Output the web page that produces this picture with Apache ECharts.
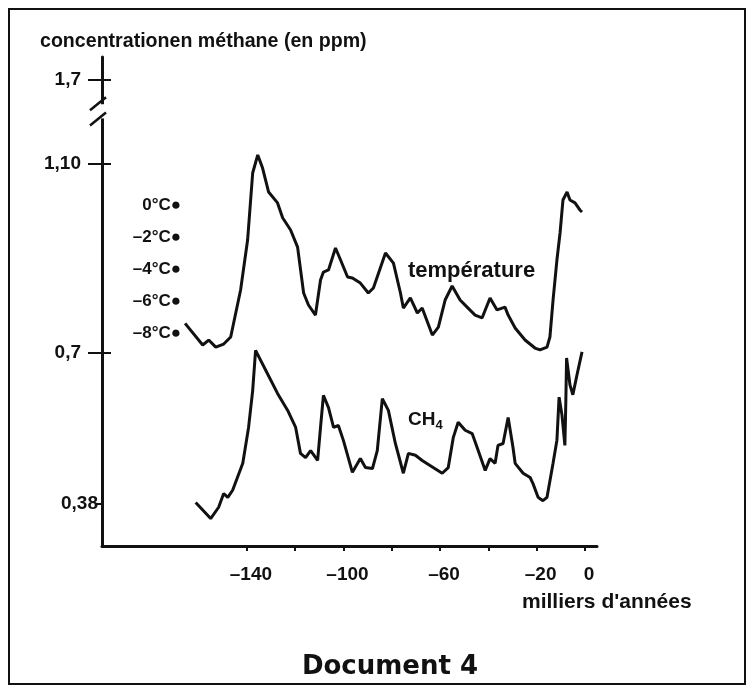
<!DOCTYPE html>
<html>
<head>
<meta charset="utf-8">
<script src="https://cdn.jsdelivr.net/npm/echarts@6/dist/echarts.min.js"></script>
<style>
html,body{margin:0;padding:0;background:#fff;}
#chart{width:754px;height:691px;}
</style>
</head>
<body>
<div id="chart"></div>
<script>
// ---- data (ages in thousands of years, CH4 in ppm, temperature in °C) ----
const xTickValues = [-140, -120, -100, -80, -60, -40, -20, 0];
const xLabelValues = [-140, -100, -60, -20, 0];
// 1.276 is where the broken axis places its "1,7" tick
const ch4TickValues = [0.38, 0.7, 1.1, 1.276];
const ch4TickLabels = ['0,38', '0,7', '1,10', '1,7'];
const tempLabelValues = [0, -2, -4, -6, -8];

const tempAges = [-165.6,-158.3,-155.8,-152.9,-149.6,-146.7,-142.6,-139.7,-137.6,-135.5,-133.5,-131.0,-127.3,-125.2,-121.9,-119.0,-116.5,-114.5,-111.6,-109.5,-108.3,-106.2,-103.3,-101.2,-98.3,-96.3,-93.0,-89.7,-87.6,-82.6,-79.3,-76.4,-75.2,-72.3,-69.4,-67.4,-63.2,-60.7,-57.9,-55.0,-51.7,-48.8,-45.5,-42.6,-39.3,-36.4,-33.1,-31.8,-28.9,-24.8,-20.7,-18.6,-15.7,-14.5,-13.2,-11.6,-10.3,-9.1,-7.4,-6.2,-4.1,-2.1,-1.2];
const tempValues = [-7.4,-8.75,-8.44,-8.88,-8.69,-8.25,-5.31,-2.19,2.0,3.13,2.31,0.81,0.13,-0.8,-1.56,-2.63,-5.5,-6.25,-6.88,-4.69,-4.19,-4.06,-2.69,-3.44,-4.5,-4.56,-4.88,-5.5,-5.19,-3.0,-3.63,-5.5,-6.44,-5.81,-6.75,-6.44,-8.13,-7.63,-5.94,-5.06,-5.94,-6.38,-6.88,-7.06,-5.81,-6.56,-6.38,-6.88,-7.69,-8.44,-8.94,-9.06,-8.88,-8.25,-5.94,-3.44,-1.75,0.31,0.81,0.31,0.13,-0.31,-0.44];

const ch4Ages = [-161.2,-155.0,-151.7,-149.6,-147.9,-145.9,-141.7,-139.3,-137.6,-136.4,-132.2,-127.3,-123.1,-119.8,-117.8,-115.7,-113.6,-110.7,-109.5,-108.3,-106.2,-104.1,-102.1,-100.0,-96.3,-93.0,-90.9,-88.0,-86.0,-83.9,-81.4,-78.5,-75.2,-73.1,-70.2,-67.4,-64.0,-59.1,-56.6,-54.5,-52.5,-49.6,-46.7,-44.2,-41.3,-39.3,-37.2,-36.0,-33.9,-31.8,-29.8,-28.9,-25.6,-22.7,-21.5,-19.4,-17.4,-15.7,-13.2,-11.6,-10.7,-9.5,-8.3,-7.9,-7.6,-6.2,-5.0,-3.3,-1.2];
const ch4Values = [0.382,0.348,0.372,0.401,0.393,0.408,0.465,0.541,0.619,0.704,0.662,0.613,0.577,0.541,0.486,0.477,0.492,0.471,0.541,0.609,0.583,0.541,0.545,0.513,0.446,0.475,0.456,0.454,0.492,0.602,0.577,0.507,0.444,0.486,0.482,0.471,0.460,0.444,0.456,0.520,0.552,0.535,0.528,0.492,0.450,0.475,0.465,0.503,0.507,0.562,0.499,0.465,0.444,0.435,0.422,0.393,0.386,0.393,0.465,0.514,0.605,0.567,0.503,0.598,0.688,0.631,0.610,0.652,0.701];

const FONT = '"Liberation Sans", Arial, sans-serif';
const INK = '#111';

const chart = echarts.init(document.getElementById('chart'), null, {renderer: 'canvas'});

function ch4Label(v) {
  for (let i = 0; i < ch4TickValues.length; i++) {
    if (Math.abs(ch4TickValues[i] - v) < 1e-6) return ch4TickLabels[i];
  }
  return '';
}

const yMin = 0.29, yMax = 1.325;
const tMin = -21.3125, tMax = 9.25;

const option = {
  animation: false,
  backgroundColor: '#fff',
  grid: {left: 102, top: 57, right: 157, bottom: 145, containLabel: false},
  xAxis: {
    type: 'value', min: -200, max: 5,
    axisLine: {show: true, onZero: false, lineStyle: {color: INK, width: 3}},
    axisTick: {show: true, length: 5, lineStyle: {color: INK, width: 2}, customValues: xTickValues},
    axisLabel: {
      show: true, customValues: xLabelValues, margin: 19, padding: [0, 0, 0, 8],
      color: INK, fontFamily: FONT, fontWeight: 'bold', fontSize: 19,
      formatter: v => String(v).replace('-', '\u2013')
    },
    splitLine: {show: false}
  },
  yAxis: [
    {
      type: 'value', min: yMin, max: yMax, position: 'left',
      axisLine: {show: true, onZero: false, lineStyle: {color: INK, width: 3}},
      axisTick: {show: true, length: 6, lineStyle: {color: INK, width: 2}, customValues: ch4TickValues},
      axisLabel: {
        show: true, customValues: ch4TickValues, margin: 4,
        formatter: v => {
          const s = ch4Label(v);
          return s === '0,38' ? '{b|' + s + '}' : '{a|' + s + '}';
        },
        rich: {
          a: {fontFamily: FONT, fontWeight: 'bold', fontSize: 19, color: INK, padding: [0, 17, 0, 0]},
          b: {fontFamily: FONT, fontWeight: 'bold', fontSize: 19, color: INK}
        }
      },
      splitLine: {show: false}
    },
    {
      type: 'value', min: tMin, max: tMax, position: 'left', offset: -79,
      axisLine: {show: false, onZero: false}, axisTick: {show: false},
      axisLabel: {
        show: true, customValues: tempLabelValues, margin: 0,
        color: INK, fontFamily: FONT, fontWeight: 'bold', fontSize: 17,
        formatter: v => String(v).replace('-', '\u2013') + '°C\u25CF'
      },
      splitLine: {show: false}
    },
    {
      type: 'value', min: yMin, max: yMax, position: 'left',
      axisLine: {show: false, onZero: false},
      axisTick: {show: true, length: 14, lineStyle: {color: INK, width: 2}, customValues: [0.7, 1.1, 1.276]},
      axisLabel: {show: false},
      splitLine: {show: false}
    },
    {
      type: 'value', min: yMin, max: yMax, position: 'left',
      axisLine: {show: false, onZero: false},
      axisTick: {show: true, inside: true, length: 9, lineStyle: {color: INK, width: 2}, customValues: [0.7, 1.1, 1.276]},
      axisLabel: {show: false},
      splitLine: {show: false}
    }
  ],
  series: [
    {
      name: 'température', type: 'line', yAxisIndex: 1, showSymbol: false,
      lineStyle: {color: INK, width: 3}, data: tempAges.map((a, i) => [a, tempValues[i]])
    },
    {
      name: 'CH4', type: 'line', yAxisIndex: 0, showSymbol: false,
      lineStyle: {color: INK, width: 3}, data: ch4Ages.map((a, i) => [a, ch4Values[i]])
    }
  ]
};
chart.setOption(option);

// decorations and free text
const axX = chart.convertToPixel({xAxisIndex: 0}, -200);
const gapTop = chart.convertToPixel({yAxisIndex: 0}, 1.225);
const gapBot = chart.convertToPixel({yAxisIndex: 0}, 1.195);
chart.setOption({
  graphic: [
    {type: 'rect', shape: {x: 9, y: 9, width: 736, height: 675}, style: {fill: 'none', stroke: INK, lineWidth: 2}, z: 100},
    {type: 'rect', shape: {x: axX - 3, y: gapTop, width: 6, height: gapBot - gapTop}, style: {fill: '#fff'}, z: 100},
    {type: 'line', shape: {x1: axX - 12, y1: gapTop + 6, x2: axX + 4, y2: gapTop - 7}, style: {stroke: INK, lineWidth: 2.5}, z: 101},
    {type: 'line', shape: {x1: axX - 12, y1: gapBot + 7, x2: axX + 4, y2: gapBot - 6}, style: {stroke: INK, lineWidth: 2.5}, z: 101},
    {type: 'text', x: 40, y: 42, style: {text: 'concentrationen méthane (en ppm)', font: 'bold 19.6px ' + FONT, fill: INK, textAlign: 'left', textVerticalAlign: 'middle'}, z: 101},
    {type: 'text', x: 408, y: 271, style: {text: 'température', font: 'bold 22px ' + FONT, fill: INK, textAlign: 'left', textVerticalAlign: 'middle'}, z: 101},
    {type: 'text', x: 408, y: 420, style: {text: '{a|CH}{b|4}', textAlign: 'left', textVerticalAlign: 'middle',
      rich: {a: {fontFamily: FONT, fontWeight: 'bold', fontSize: 19, fill: INK}, b: {fontFamily: FONT, fontWeight: 'bold', fontSize: 13, fill: INK, padding: [10, 0, 0, 0]}}}, z: 101},
    {type: 'text', x: 522, y: 602, style: {text: "milliers d'années", font: 'bold 21px ' + FONT, fill: INK, textAlign: 'left', textVerticalAlign: 'middle'}, z: 101},
    {type: 'text', x: 390, y: 667, style: {text: 'Document 4', font: 'bold 26px "DejaVu Sans", Verdana, sans-serif', fill: INK, textAlign: 'center', textVerticalAlign: 'middle'}, z: 101}
  ]
});
</script>
</body>
</html>
